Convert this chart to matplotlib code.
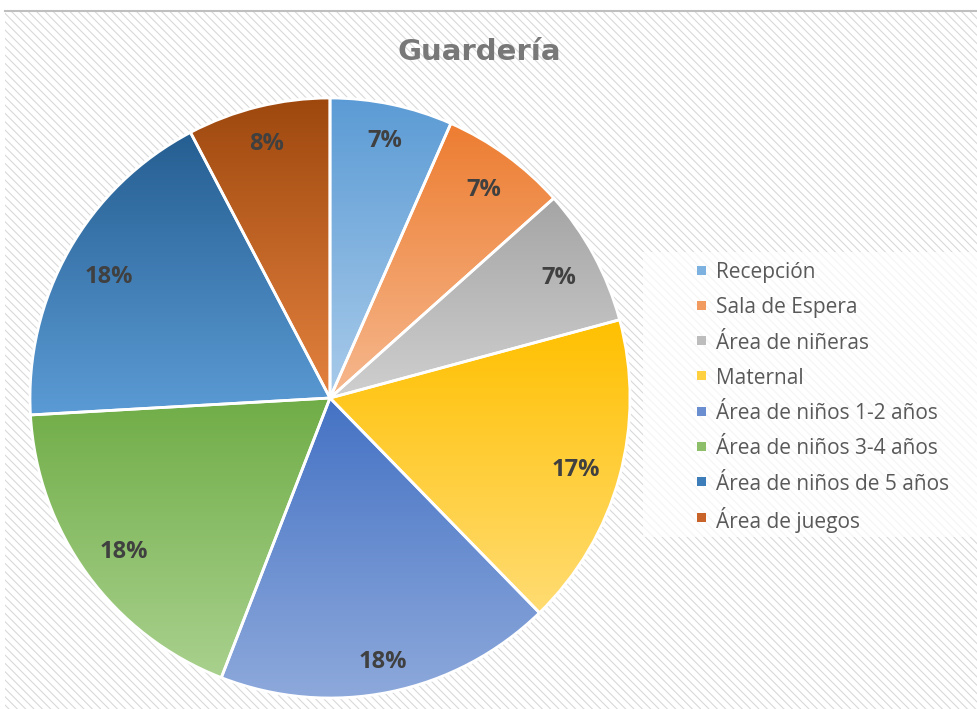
import numpy as np
import matplotlib
matplotlib.use("Agg")
import matplotlib.pyplot as plt
from matplotlib.patches import Rectangle
from matplotlib.colors import LinearSegmentedColormap

plt.rcParams['font.family'] = ['Open Sans', 'DejaVu Sans']
plt.rcParams['hatch.linewidth'] = 0.8

# data (percent of total area)
labels = ["Recepción", "Sala de Espera", "Área de niñeras", "Maternal",
          "Área de niños 1-2 años", "Área de niños 3-4 años",
          "Área de niños de 5 años", "Área de juegos"]
values = [6.6, 6.8, 7.4, 16.9, 18.2, 18.2, 18.2, 7.7]
# top (dark) / bottom (light) gradient colours
dark = ["#5B9BD5", "#ED7D31", "#A5A5A5", "#FFC000",
        "#4472C4", "#70AD47", "#255E91", "#9E480E"]
light = ["#A9CBEA", "#F6B88E", "#CFCFCF", "#FFDC73",
         "#8FAADC", "#A9D18E", "#5B9BD5", "#E4823F"]
legend_colors = ["#7DB1E0", "#F29B60", "#BDBDBD", "#FFD03F",
                 "#6A8ED0", "#8DBF6A", "#3C7DBA", "#C8642A"]

W, H = 977.0, 709.0
fig = plt.figure(figsize=(9.77, 7.09), dpi=100)

# background: white band at top, hatched chart area
fig.patches.append(Rectangle((5 / W, 0), 1, 1 - 12 / H, transform=fig.transFigure,
                             facecolor="white", edgecolor="#D9D9D9", hatch="\\\\\\\\",
                             linewidth=0, zorder=-5))
fig.add_artist(plt.Line2D([5 / W, 1], [1 - 11 / H, 1 - 11 / H], color="#BFBFBF",
                          linewidth=1.5, transform=fig.transFigure, zorder=-4))

ax = fig.add_axes([30 / W, 1 - 698 / H, 600 / W, 600 / H])
ax.patch.set_alpha(0)

wedges, texts, autotexts = ax.pie(values, startangle=90, counterclock=False, radius=1.0,
                                  autopct="%1.0f%%", pctdistance=0.89,
                                  wedgeprops=dict(edgecolor="white", linewidth=2),
                                  textprops=dict(color="#404040", fontsize=17, fontweight="bold"))

grad = np.linspace(0, 1, 256).reshape(-1, 1)
for w, c1, c2 in zip(wedges, dark, light):
    w.set_facecolor("none")
    verts = w.get_path().vertices
    x0, x1 = verts[:, 0].min(), verts[:, 0].max()
    y0, y1 = verts[:, 1].min(), verts[:, 1].max()
    cmap = LinearSegmentedColormap.from_list("g", [c1, c2])
    im = ax.imshow(grad, cmap=cmap, extent=(x0, x1, y0, y1), origin="upper",
                   aspect="auto", zorder=0.5, interpolation="bilinear")
    im.set_clip_path(w)
    w.set_zorder(1)
ax.set_xlim(-1, 1)
ax.set_ylim(-1, 1)
ax.set_aspect("equal")
ax.axis("off")

# "inside end" labels: push each label out until its box nearly touches the rim
fig.canvas.draw()
r = fig.canvas.get_renderer()
px = 300.0  # pixels per data unit
for w, t in zip(wedges, autotexts):
    t.set_zorder(3)
    bb = t.get_window_extent(r)
    hw, hh = bb.width / 2 / px, bb.height / 2 / px * 0.8
    th = np.deg2rad((w.theta1 + w.theta2) / 2)
    c, s = np.cos(th), np.sin(th)
    best = 0.5
    for rad in np.linspace(0.5, 1.0, 501):
        cx = abs(rad * c) + hw
        cy = abs(rad * s) + hh
        if np.hypot(cx, cy) <= 0.935:
            best = rad
    t.set_position((best * c, best * s - 0.015))

# title
fig.text(479 / W, 1 - 52 / H, "Guardería", ha="center", va="center",
         fontsize=21, fontweight="bold", color="#787878", family="DejaVu Sans")

# legend, drawn row by row
fig.patches.append(Rectangle((643 / W, 1 - 537 / H), 334 / W, 285 / H,
                             transform=fig.transFigure, facecolor="white", alpha=0.75,
                             edgecolor="none", zorder=-3))
for i, (lab, c) in enumerate(zip(labels, legend_colors)):
    yc = 1 - (270 + i * 35.3) / H
    fig.patches.append(Rectangle((697 / W, yc - 4.5 / H), 9 / W, 9 / H,
                                 transform=fig.transFigure, facecolor=c,
                                 edgecolor="none", zorder=2))
    fig.text(716 / W, yc, lab, ha="left", va="center_baseline", fontsize=15,
             color="#595959")

fig.savefig("out.png", dpi=100)
